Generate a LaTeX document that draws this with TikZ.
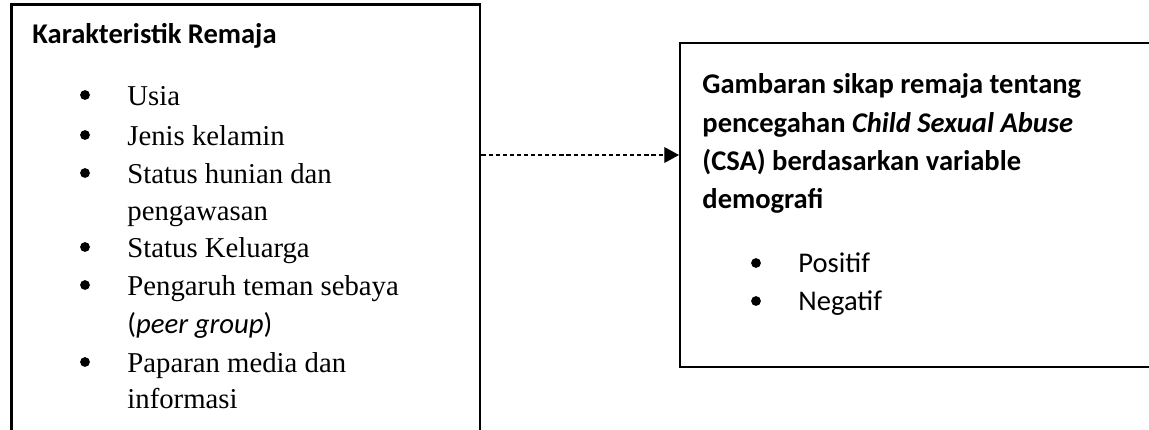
\documentclass[tikz,border=0pt]{standalone}
\usepackage{fontspec}
\setmainfont{Liberation Serif}
\newfontfamily\calibri{Carlito}
\usetikzlibrary{arrows.meta}

\begin{document}
\begin{tikzpicture}[x=0.48pt,y=-0.48pt,
	kotak/.style={draw,anchor=north west,inner sep=0pt},
	baris/.style={anchor=base west,inner sep=0pt,font=\fontsize{13.8pt}{16pt}\selectfont},
	judul/.style={anchor=base west,inner sep=0pt,font=\calibri\bfseries\fontsize{13.7pt}{16pt}\selectfont},
	titik/.style={circle,fill,inner sep=0pt,minimum size=4.7pt}]
		\useasboundingbox (0,0) rectangle (1149,429);
		\node[kotak,line width=1.3pt,minimum width=225pt,minimum height=215pt] (remaja) at (10,3) {};
		\node[kotak,line width=1pt,minimum width=232pt,minimum height=155.5pt] (sikap) at (679,42) {};
		% kotak kiri
		\node[judul] (karakteristik) at (32,43) {Karakteristik Remaja};
		\foreach \y/\t in
		{
			105/Usia, 145/Jenis kelamin, 183/Status hunian dan, 220/pengawasan,
			257/Status Keluarga, 295/Pengaruh teman sebaya,
			333/{{\calibri(\textit{peer group})}}, 372/Paparan media dan, 408/informasi
		}
		{
			\node[baris] at (127,\y) {\t};
		}
		\foreach \y in {105,145,183,257,295,372}
		{
			\node[titik] at (85,\y-10) {};
		}
		% kotak kanan
		\foreach \y/\t in
		{
			93/Gambaran sikap remaja tentang, 132/{pencegahan \textit{Child Sexual Abuse}},
			170/(CSA) berdasarkan variable, 208/demografi
		}
		{
			\node[judul] at (702,\y) {\t};
		}
		\foreach \y/\t in {272/Positif, 310/Negatif}
		{
			\node[titik] at (756,\y-9) {};
			\node[baris,font=\calibri\fontsize{13.7pt}{16pt}\selectfont] at (798,\y) {\t};
		}
		\draw[line width=0.5pt,dash pattern=on 2pt off 1.4pt,-{Triangle[length=7pt,width=7.5pt]}]
		(remaja.east |- 0,155) -- (sikap.west |- 0,155);
		\end{tikzpicture}
\end{document}
